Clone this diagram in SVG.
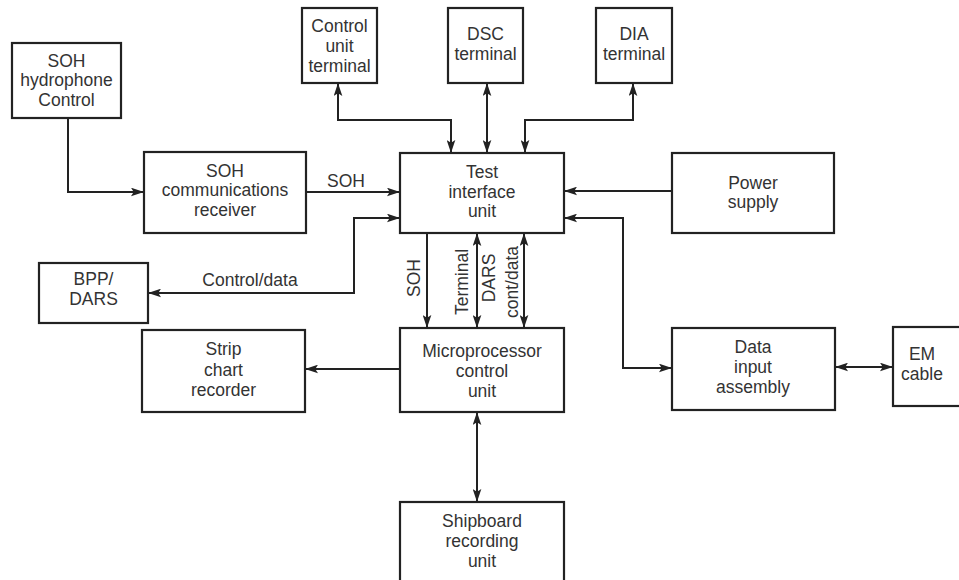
<svg xmlns="http://www.w3.org/2000/svg" width="959" height="580" viewBox="0 0 959 580">
<defs>
<marker id="ah" viewBox="0 0 12 8" refX="12" refY="4" markerWidth="13" markerHeight="9" markerUnits="userSpaceOnUse" orient="auto-start-reverse">
<path d="M0,0 L12,4 L0,8 L2.5,4 Z" fill="#222"/>
</marker>
<style>
.box{fill:#fff;stroke:#222;stroke-width:2.2}
.t{font-family:"Liberation Sans",Arial,sans-serif;font-size:17.5px;fill:#333;text-anchor:middle}
.c{fill:none;stroke:#222;stroke-width:2}
</style>
</defs>
<rect width="959" height="580" fill="#fff"/>
<g id="connectors">
<path class="c" d="M68,118 V192 H144" marker-end="url(#ah)"/>
<path class="c" d="M306,192 H400" marker-end="url(#ah)"/>
<path class="c" d="M338,83 V120 H451 V153" marker-start="url(#ah)" marker-end="url(#ah)"/>
<path class="c" d="M487,83 V153" marker-start="url(#ah)" marker-end="url(#ah)"/>
<path class="c" d="M633,83 V120 H525 V153" marker-start="url(#ah)" marker-end="url(#ah)"/>
<path class="c" d="M672,191 H564" marker-end="url(#ah)"/>
<path class="c" d="M564,218 H623 V368 H672" marker-start="url(#ah)" marker-end="url(#ah)"/>
<path class="c" d="M835,367 H893" marker-start="url(#ah)" marker-end="url(#ah)"/>
<path class="c" d="M400,218 H354 V293 H148" marker-start="url(#ah)" marker-end="url(#ah)"/>
<path class="c" d="M400,369 H305" marker-end="url(#ah)"/>
<path class="c" d="M427,233 V328" marker-end="url(#ah)"/>
<path class="c" d="M477,233 V328" marker-start="url(#ah)" marker-end="url(#ah)"/>
<path class="c" d="M524,233 V328" marker-start="url(#ah)" marker-end="url(#ah)"/>
<path class="c" d="M477,412 V502" marker-start="url(#ah)" marker-end="url(#ah)"/>
<text class="t" x="346" y="187">SOH</text>
<text class="t" x="250" y="286">Control/data</text>
<text class="t" transform="translate(420,278) rotate(-90)">SOH</text>
<text class="t" transform="translate(468,282) rotate(-90)">Terminal</text>
<text class="t" transform="translate(495,278) rotate(-90)">DARS</text>
<text class="t" transform="translate(518,282) rotate(-90)">cont/data</text>
</g>
<g id="soh-hydrophone">
<rect class="box" x="12" y="43" width="109" height="75"/>
<text class="t" x="66.5" y="67">SOH</text>
<text class="t" x="66.5" y="86">hydrophone</text>
<text class="t" x="66.5" y="106">Control</text>
</g>
<g id="soh-receiver">
<rect class="box" x="144" y="152" width="162" height="81"/>
<text class="t" x="225" y="177">SOH</text>
<text class="t" x="225" y="196">communications</text>
<text class="t" x="225" y="216">receiver</text>
</g>
<g id="control-unit-terminal">
<rect class="box" x="302" y="8" width="75" height="75"/>
<text class="t" x="339.5" y="32">Control</text>
<text class="t" x="339.5" y="52">unit</text>
<text class="t" x="339.5" y="72">terminal</text>
</g>
<g id="dsc-terminal">
<rect class="box" x="448" y="8" width="75" height="75"/>
<text class="t" x="485.5" y="40">DSC</text>
<text class="t" x="485.5" y="60">terminal</text>
</g>
<g id="dia-terminal">
<rect class="box" x="596" y="8" width="76" height="75"/>
<text class="t" x="634" y="40">DIA</text>
<text class="t" x="634" y="60">terminal</text>
</g>
<g id="test-interface">
<rect class="box" x="400" y="153" width="164" height="80"/>
<text class="t" x="482" y="178">Test</text>
<text class="t" x="482" y="198">interface</text>
<text class="t" x="482" y="217">unit</text>
</g>
<g id="power-supply">
<rect class="box" x="672" y="153" width="162" height="80"/>
<text class="t" x="753" y="189">Power</text>
<text class="t" x="753" y="208">supply</text>
</g>
<g id="bpp-dars">
<rect class="box" x="39" y="263" width="109" height="60"/>
<text class="t" x="93.5" y="285">BPP/</text>
<text class="t" x="93.5" y="305">DARS</text>
</g>
<g id="strip-chart">
<rect class="box" x="142" y="330" width="163" height="82"/>
<text class="t" x="223.5" y="355">Strip</text>
<text class="t" x="223.5" y="376">chart</text>
<text class="t" x="223.5" y="396">recorder</text>
</g>
<g id="microprocessor">
<rect class="box" x="400" y="328" width="164" height="84"/>
<text class="t" x="482" y="357">Microprocessor</text>
<text class="t" x="482" y="377">control</text>
<text class="t" x="482" y="397">unit</text>
</g>
<g id="data-input">
<rect class="box" x="672" y="328" width="163" height="82"/>
<text class="t" x="753" y="353">Data</text>
<text class="t" x="753" y="373">input</text>
<text class="t" x="753" y="393">assembly</text>
</g>
<g id="em-cable">
<rect class="box" x="893" y="327" width="70" height="79"/>
<text class="t" x="922" y="360">EM</text>
<text class="t" x="922" y="380">cable</text>
</g>
<g id="shipboard">
<rect class="box" x="400" y="502" width="164" height="85"/>
<text class="t" x="482" y="527">Shipboard</text>
<text class="t" x="482" y="547">recording</text>
<text class="t" x="482" y="567">unit</text>
</g>
</svg>
